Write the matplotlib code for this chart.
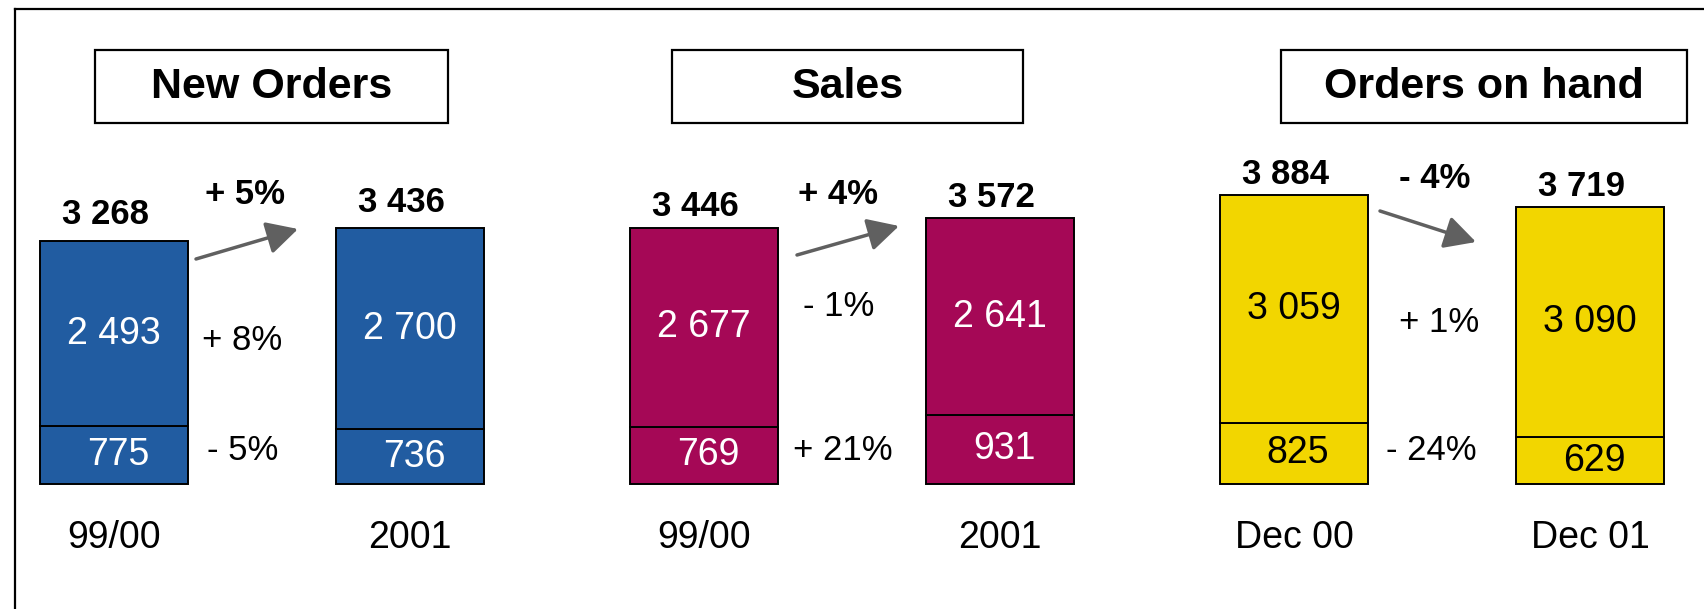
import matplotlib.pyplot as plt
from matplotlib.lines import Line2D
from matplotlib.patches import FancyArrowPatch, Rectangle

plt.rcParams["font.family"] = ["Liberation Sans", "DejaVu Sans"]

# data
panel_titles = ["New Orders", "Sales", "Orders on hand"]
period_labels = [["99/00", "2001"], ["99/00", "2001"], ["Dec 00", "Dec 01"]]
upper_values = [[2493, 2700], [2677, 2641], [3059, 3090]]
lower_values = [[775, 736], [769, 931], [825, 629]]
bar_colors = ["#215ca1", "#a50856", "#f2d600"]
inner_colors = ["white", "white", "black"]

# layout, in pixels from the top-left corner
W, H, DPI = 1704, 609, 100
BASE_PX = 484
PX_PER_UNIT = 0.07436
SPACING = 296
FIRST_CENTER = [114, 704, 1294]
XPAD = 0.3
title_boxes = [(95, 448), (672, 1023), (1281, 1687)]
total_pct_pos = [(245, 194), (838, 194), (1435, 179)]
arrows = [((196, 259), (298, 229)), ((797, 255), (899, 226)), ((1380, 211), (1476, 242))]
upper_pct_pos = [(242, 340), (839, 306), (1439, 322)]
lower_pct_pos = [(243, 451), (843, 450), (1431, 451)]
total_gap = [26, 21, 21]


def fx(px):
    return px / W


def fy(py):
    return 1 - py / H


def fmt(v):
    return f"{v:,}".replace(",", " ")


def pct(new, old):
    p = round((new / old - 1) * 100)
    return f"+ {p}%" if p >= 0 else f"- {abs(p)}%"


fig = plt.figure(figsize=(W / DPI, H / DPI), dpi=DPI)

# frame (only top and left edges are visible)
fig.add_artist(Line2D([fx(15), fx(15)], [fy(9), 0], color="black", lw=1.6))
fig.add_artist(Line2D([fx(15), 1], [fy(9), fy(9)], color="black", lw=1.6))

for i in range(3):
    left = FIRST_CENTER[i] - XPAD * SPACING
    width = (1 + 2 * XPAD) * SPACING
    ax = fig.add_axes([fx(left), 0, width / W, 1])
    ax.set_xlim(-XPAD, 1 + XPAD)
    ax.set_ylim(-(H - BASE_PX) / PX_PER_UNIT, BASE_PX / PX_PER_UNIT)
    ax.axis("off")

    low = lower_values[i]
    up = upper_values[i]
    tot = [a + b for a, b in zip(low, up)]
    xs = [0, 1]

    ax.bar(xs, low, width=0.5, color=bar_colors[i], edgecolor="black", lw=1.4)
    ax.bar(xs, up, width=0.5, bottom=low, color=bar_colors[i], edgecolor="black", lw=1.4)

    for j in xs:
        ax.annotate(fmt(up[j]), (j, low[j] + up[j] / 2), ha="center", va="center",
                    fontsize=27, color=inner_colors[i])
        ax.annotate(fmt(low[j]), (j, low[j] / 2), xytext=(3, 0), textcoords="offset points",
                    ha="center", va="center", fontsize=27, color=inner_colors[i])
        ax.annotate(fmt(tot[j]), (j, tot[j]), xytext=(-6, total_gap[i] * 72 / DPI),
                    textcoords="offset points", ha="center", va="center",
                    fontsize=25, fontweight="bold")
        ax.text(j, (BASE_PX - 538) / PX_PER_UNIT, period_labels[i][j],
                ha="center", va="center", fontsize=27)

    # title box
    x0, x1 = title_boxes[i]
    fig.add_artist(Rectangle((fx(x0), fy(123)), (x1 - x0) / W, 73 / H,
                             transform=fig.transFigure, fill=False, ec="black", lw=1.6))
    fig.text(fx((x0 + x1) / 2), fy(87), panel_titles[i], ha="center", va="center",
             fontsize=31, fontweight="bold")

    # changes
    px, py = total_pct_pos[i]
    fig.text(fx(px), fy(py), pct(tot[1], tot[0]), ha="center", va="center",
             fontsize=25, fontweight="bold")
    px, py = upper_pct_pos[i]
    fig.text(fx(px), fy(py), pct(up[1], up[0]), ha="center", va="center", fontsize=25)
    px, py = lower_pct_pos[i]
    fig.text(fx(px), fy(py), pct(low[1], low[0]), ha="center", va="center", fontsize=25)

    (sx, sy), (ex, ey) = arrows[i]
    fig.add_artist(FancyArrowPatch(
        (fx(sx), fy(sy)), (fx(ex), fy(ey)), transform=fig.transFigure,
        arrowstyle="-|>,head_length=0.95,head_width=0.5", mutation_scale=20,
        color="#606060", lw=2.5, shrinkA=0, shrinkB=0))

fig.savefig("out.png", dpi=DPI)
